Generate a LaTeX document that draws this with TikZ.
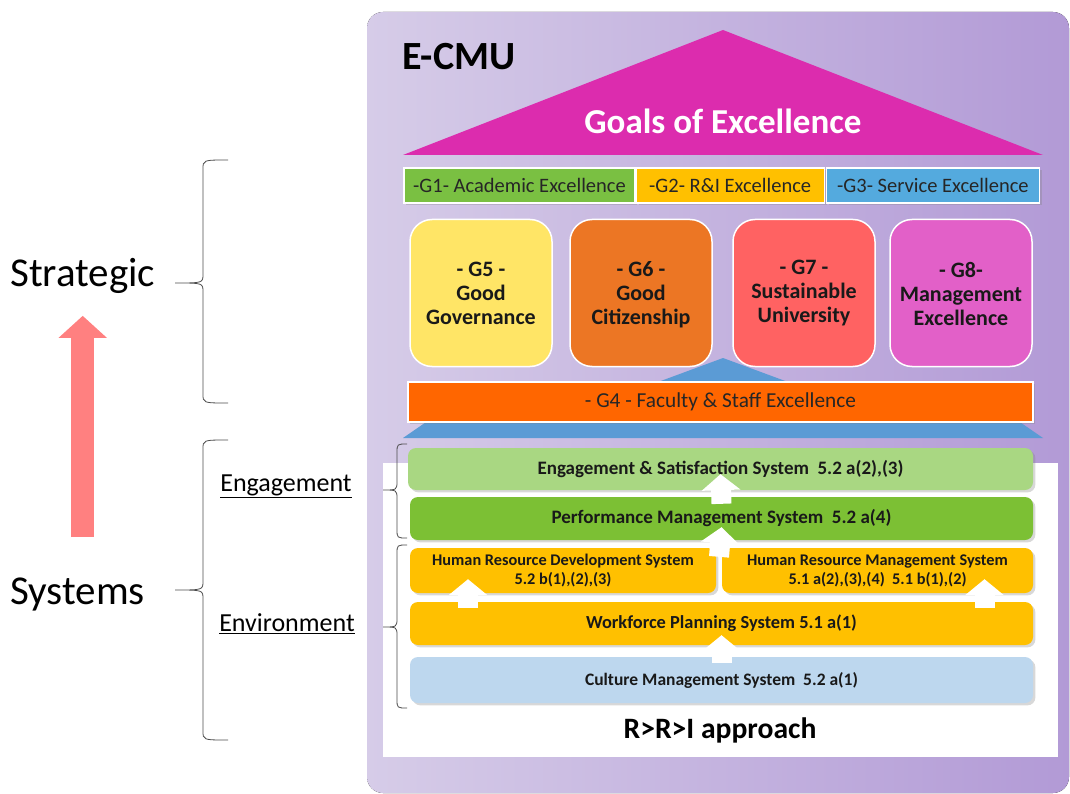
\documentclass[tikz,border=0pt]{standalone}
\usepackage{fontspec}
\setmainfont{Carlito}
\usetikzlibrary{arrows.meta,shapes,positioning,calc,shadows}
\definecolor{panelL}{RGB}{214,204,232}
\definecolor{panelR}{RGB}{178,154,214}
\definecolor{roofc}{RGB}{220,44,174}
\definecolor{acadc}{RGB}{122,192,66}
\definecolor{resc}{RGB}{255,192,0}
\definecolor{servc}{RGB}{84,170,222}
\definecolor{govc}{RGB}{255,229,102}
\definecolor{citc}{RGB}{236,118,36}
\definecolor{susc}{RGB}{255,98,98}
\definecolor{mgtc}{RGB}{226,96,200}
\definecolor{staffc}{RGB}{255,102,0}
\definecolor{basec}{RGB}{91,155,213}
\definecolor{engc}{RGB}{169,215,130}
\definecolor{perfc}{RGB}{124,192,52}
\definecolor{goldc}{RGB}{255,192,0}
\definecolor{cultc}{RGB}{189,215,238}
\definecolor{risec}{RGB}{255,128,128}
\newcommand{\sidebrace}[6]{\draw[bracelin] (#1,#4) .. controls (#2,#4) .. (#2,#4+9) -- (#2,#5-9) .. controls (#2,#5) .. (#3,#5) .. controls (#2,#5) .. (#2,#5+9) -- (#2,#6-9) .. controls (#2,#6) .. (#1,#6);}

\begin{document}
\begin{tikzpicture}[x=1pt,y=-1pt,
  goalbar/.style={rectangle,draw=white,line width=1.2pt,minimum height=35pt,inner sep=0pt,font=\fontsize{20.5}{22}\selectfont,text=black!85,drop shadow={opacity=.3}},
  goalcard/.style={rectangle,rounded corners=22pt,draw=white,line width=1.5pt,minimum width=142pt,minimum height=147pt,align=center,font=\bfseries\fontsize{22}{24}\selectfont,text=black!90},
  sysbox/.style={rectangle,rounded corners=8pt,minimum height=43pt,inner sep=0pt,align=center,font=\bfseries\fontsize{19}{21}\selectfont,text=black!90,drop shadow={opacity=.3}},
  hrbox/.style={sysbox,minimum height=45pt,font=\bfseries\fontsize{16.3}{19}\selectfont},
  sidelabel/.style={inner sep=0pt,font=\fontsize{41}{45}\selectfont},
  sublabel/.style={inner sep=0pt,font=\fontsize{26}{30}\selectfont},
  bracelin/.style={draw=black!70,line width=.8pt},
  uparrow/.style={draw=white,line width=20pt,-{Triangle[width=38pt,length=16pt]}},
  rise/.style={draw=risec,line width=23pt,-{Triangle[width=47pt,length=22pt]}}]

  \useasboundingbox (0,0) rectangle (1070,794);
  \fill[left color=panelL,right color=panelR,rounded corners=16pt] (367,12) rectangle (1069,793);
  \fill[white] (383,463) rectangle (1058,757);
  \fill[roofc] (723,30) -- (1043,155) -- (403,155) -- cycle;
  \node[anchor=west,inner sep=0pt,font=\bfseries\fontsize{40}{44}\selectfont] (ecmu) at (402,57) {E-CMU};
  \node[text=white,font=\bfseries\fontsize{35}{40}\selectfont] (goals) at (723,121) {Goals of Excellence};

  \node[goalbar,fill=acadc,minimum width=231pt] (acad) at (519.5,185.5) {-G1- Academic Excellence};
  \node[goalbar,fill=resc,minimum width=188pt] (res) [right=0pt of acad] {-G2- R\&I Excellence};
  \node[goalbar,fill=servc,minimum width=213pt] (serv) [right=1pt of res] {-G3- Service Excellence};

  \fill[basec] (723,358) -- (815,392) -- (631,392) -- cycle;
  \fill[basec] (432,418) -- (1014,418) -- (1043,438) -- (403,438) -- cycle;

  \node[goalcard,fill=govc] (gov) at (481,293) {- G5 -\\Good\\Governance};
  \node[goalcard,fill=citc] (cit) [right=16.5pt of gov] {\\[-6pt]- G6 -\\Good\\Citizenship};
  \node[goalcard,fill=susc] (sus) [right=19.5pt of cit] {- G7 -\\Sustainable\\University};
  \node[goalcard,fill=mgtc] (mgt) [right=13.5pt of sus] {\\[-6pt]- G8-\\Management\\Excellence};

  \node[goalbar,fill=staffc,minimum width=625pt,minimum height=40pt,font=\fontsize{21.3}{23}\selectfont] (staff) at (720.5,402) {- G4 - Faculty \& Staff Excellence};

  \node[sysbox,fill=engc,minimum width=625pt,minimum height=42pt] (eng) at (720.5,469) {Engagement \& Satisfaction System\ \ 5.2 a(2),(3)};
  \node[sysbox,fill=perfc,minimum width=623pt] (perf) at (721.5,518.5) {Performance Management System\ \ 5.2 a(4)};
  \node[hrbox,fill=goldc,minimum width=306pt] (hrd) at (563,570.5) {Human Resource Development System\\5.2 b(1),(2),(3)};
  \node[hrbox,fill=goldc,minimum width=311pt] (hrm) at (877.5,570.5) {Human Resource Management System\\5.1 a(2),(3),(4)\ \ 5.1 b(1),(2)};
  \node[sysbox,fill=goldc,minimum width=623pt,font=\bfseries\fontsize{18.4}{21}\selectfont] (work) at (721.5,623.5) {Workforce Planning System 5.1 a(1)};
  \node[sysbox,fill=cultc,minimum width=623pt,minimum height=46pt,font=\bfseries\fontsize{17.5}{20}\selectfont] (cult) at (721.5,680) {Culture Management System\ \ 5.2 a(1)};
  \node[font=\bfseries\fontsize{29.6}{33}\selectfont] (appr) at (720,730) {R>R>I approach};

  \draw[uparrow] ([yshift=-7pt]perf.north) -- ([yshift=16pt]eng.south);
  \draw[uparrow] ($(hrd.north east)!.5!(hrm.north west)+(0,9)$) -- ([yshift=13pt]perf.south);
  \draw[uparrow] ([xshift=-95pt,yshift=-15pt]hrd.south) -- ([xshift=-95pt,yshift=14pt]hrd.south);
  \draw[uparrow] ([xshift=107pt,yshift=-15pt]hrm.south) -- ([xshift=107pt,yshift=14pt]hrm.south);
  \draw[uparrow] ([yshift=-6pt]cult.north) -- ([yshift=10pt]work.south);

  \node[sidelabel,anchor=west] (strat) at (10,276) {Strategic};
  \node[sidelabel,anchor=west] (sys) at (10,594) {Systems};
  \node[sublabel] (englab) at (286,486) {\underline{Engagement}};
  \node[sublabel] (envlab) at (287,624) {\underline{Environment}};
  \draw[rise] ($(sys.north -| strat.south)+(0,-40)$) -- ($(strat.south)+(0,22)$);

  \sidebrace{228}{203}{175}{160}{283}{403}
  \sidebrace{228}{203}{175}{440}{590}{740}
  \sidebrace{407}{397}{383}{444}{490}{538}
  \sidebrace{407}{397}{383}{545}{627}{708}
\end{tikzpicture}
\end{document}
